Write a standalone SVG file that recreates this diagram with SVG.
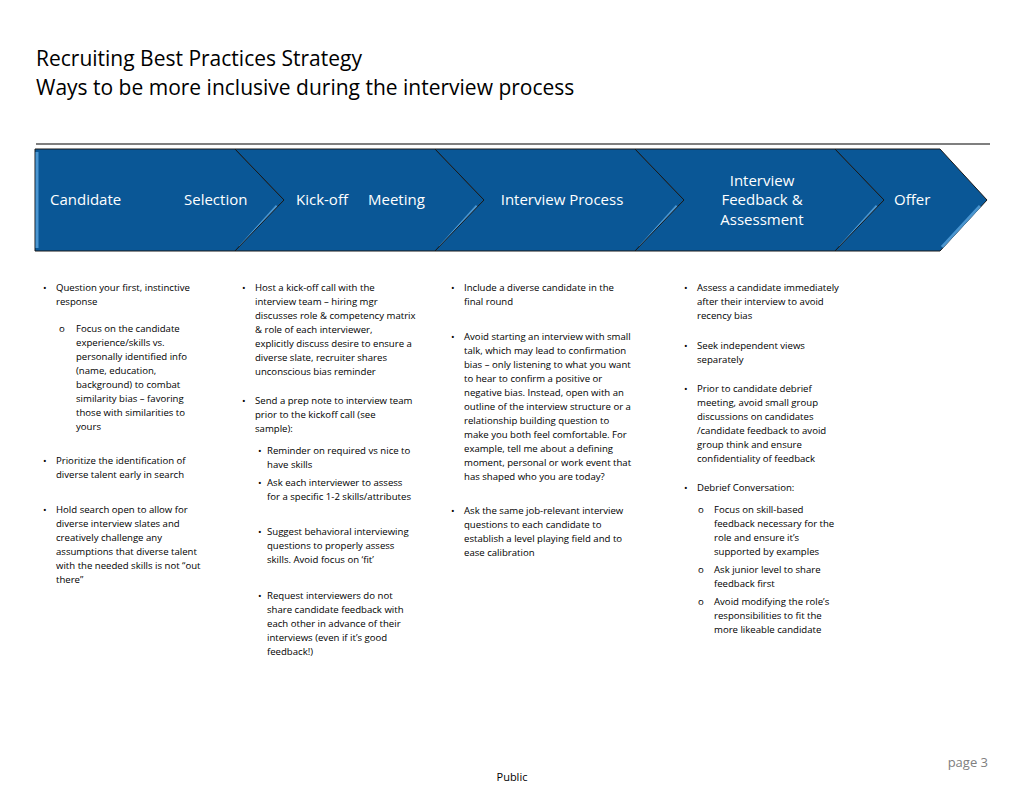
<svg xmlns="http://www.w3.org/2000/svg" width="1024" height="791" viewBox="0 0 1024 791">
<defs>
<style>
.t{font-family:"Open Sans","Liberation Sans",sans-serif;fill:#000}
.h{font-size:21px}
.s{font-family:"Open Sans","Liberation Sans",sans-serif;font-size:15px;fill:#fff}
.b{font-family:"Open Sans","Liberation Sans",sans-serif;font-size:9.6px;fill:#000}
.chev{fill:#0a5796;stroke:#1a1a1a;stroke-width:1}
.hl{stroke:#5aa6e0;stroke-width:3;fill:none;opacity:.8}
</style>
</defs>
<rect width="1024" height="791" fill="#fff"/>
<text class="t h" x="36" y="66">Recruiting Best Practices Strategy</text>
<text class="t h" x="36" y="95">Ways to be more inclusive during the interview process</text>
<line x1="36" y1="144" x2="990" y2="144" stroke="#000" stroke-width="1.2"/>
<g id="chevrons">
<g id="n1"><path class="chev" d="M35 149 H235 L284 200 L235 251 H35 Z"/><line class="hl" x1="37" y1="152" x2="37" y2="248"/><path class="hl" d="M240 247 L277 206"/><text class="s" x="50" y="205">Candidate</text><text class="s" x="184" y="205">Selection</text></g>
<g id="n2"><path class="chev" d="M235 149 H435 L484 200 L435 251 H235 L284 200 Z"/><path class="hl" d="M440 247 L477 206"/><text class="s" x="296" y="205">Kick-off</text><text class="s" x="368" y="205">Meeting</text></g>
<g id="n3"><path class="chev" d="M435 149 H635 L684 200 L635 251 H435 L484 200 Z"/><path class="hl" d="M640 247 L677 206"/><text class="s" x="562" y="205" text-anchor="middle">Interview Process</text></g>
<g id="n4"><path class="chev" d="M635 149 H835 L884 200 L835 251 H635 L684 200 Z"/><path class="hl" d="M840 247 L877 206"/><text class="s" x="762" text-anchor="middle"><tspan x="762" y="186">Interview</tspan><tspan x="762" y="205">Feedback &amp;</tspan><tspan x="762" y="225">Assessment</tspan></text></g>
<g id="n5"><path class="chev" d="M835 149 H940 L987 200 L940 251 H835 L884 200 Z"/><path class="hl" d="M942 247 L980 206"/><text class="s" x="894" y="205">Offer</text></g>
</g>
<g id="col1" class="b">
<text x="43" y="291">•</text>
<text x="56" y="291">Question your first, instinctive</text><text x="56" y="305">response</text>
<text x="59" y="332">o</text>
<text x="76" y="332">Focus on the candidate</text><text x="76" y="346">experience/skills vs.</text><text x="76" y="360">personally identified info</text><text x="76" y="374">(name, education,</text><text x="76" y="388">background) to combat</text><text x="76" y="402">similarity bias – favoring</text><text x="76" y="416">those with similarities to</text><text x="76" y="430">yours</text>
<text x="43" y="464">•</text>
<text x="56" y="464">Prioritize the identification of</text><text x="56" y="478">diverse talent early in search</text>
<text x="43" y="513">•</text>
<text x="56" y="513">Hold search open to allow for</text><text x="56" y="527">diverse interview slates and</text><text x="56" y="541">creatively challenge any</text><text x="56" y="555">assumptions that diverse talent</text><text x="56" y="569">with the needed skills is  not “out</text><text x="56" y="583">there”</text>
</g>
<g id="col2" class="b">
<text x="242" y="291">•</text>
<text x="255" y="291">Host a kick-off call with the</text><text x="255" y="305">interview team – hiring mgr</text><text x="255" y="319">discusses role &amp; competency matrix</text><text x="255" y="333">&amp; role of each interviewer,</text><text x="255" y="347">explicitly discuss desire to ensure a</text><text x="255" y="361">diverse slate, recruiter shares</text><text x="255" y="375">unconscious bias reminder</text>
<text x="242" y="404">•</text>
<text x="255" y="404">Send a prep note to interview team</text><text x="255" y="418">prior to the kickoff call (see</text><text x="255" y="432">sample):</text>
<text x="258" y="454">•</text>
<text x="267" y="454">Reminder on required vs nice to</text><text x="267" y="468">have skills</text>
<text x="258" y="486">•</text>
<text x="267" y="486">Ask each interviewer to assess</text><text x="267" y="500">for a specific 1-2 skills/attributes</text>
<text x="258" y="535">•</text>
<text x="267" y="535">Suggest behavioral interviewing</text><text x="267" y="549">questions to properly assess</text><text x="267" y="563">skills. Avoid focus on ‘fit’</text>
<text x="258" y="599">•</text>
<text x="267" y="599">Request interviewers do not</text><text x="267" y="613">share candidate feedback with</text><text x="267" y="627">each other in advance of their</text><text x="267" y="641">interviews (even if it’s good</text><text x="267" y="655">feedback!)</text>
</g>
<g id="col3" class="b">
<text x="451" y="291">•</text>
<text x="464" y="291">Include a diverse candidate in the</text><text x="464" y="305">final round</text>
<text x="451" y="340">•</text>
<text x="464" y="340">Avoid starting an interview with small</text><text x="464" y="354">talk, which may lead to confirmation</text><text x="464" y="368">bias – only listening to what you want</text><text x="464" y="382">to hear to confirm a positive or</text><text x="464" y="396">negative bias. Instead, open with an</text><text x="464" y="410">outline of the interview structure or a</text><text x="464" y="424">relationship building question to</text><text x="464" y="438">make you both feel comfortable. For</text><text x="464" y="452">example, tell me about a defining</text><text x="464" y="466">moment, personal or work event that</text><text x="464" y="480">has shaped who you are today?</text>
<text x="451" y="514">•</text>
<text x="464" y="514">Ask the same job-relevant interview</text><text x="464" y="528">questions to each candidate to</text><text x="464" y="542">establish a level playing field and to</text><text x="464" y="556">ease calibration</text>
</g>
<g id="col4" class="b">
<text x="684" y="291">•</text>
<text x="697" y="291">Assess a candidate immediately</text><text x="697" y="305">after their interview to avoid</text><text x="697" y="319">recency bias</text>
<text x="684" y="349">•</text>
<text x="697" y="349">Seek independent views</text><text x="697" y="363">separately</text>
<text x="684" y="392">•</text>
<text x="697" y="392">Prior to candidate debrief</text><text x="697" y="406">meeting, avoid small group</text><text x="697" y="420">discussions on candidates</text><text x="697" y="434">/candidate feedback to avoid</text><text x="697" y="448">group think and ensure</text><text x="697" y="462">confidentiality of feedback</text>
<text x="684" y="491">•</text>
<text x="697" y="491">Debrief Conversation:</text>
<text x="698" y="513">o</text>
<text x="714" y="513">Focus on skill-based</text><text x="714" y="527">feedback necessary for the</text><text x="714" y="541">role and ensure it’s</text><text x="714" y="555">supported by examples</text>
<text x="698" y="573">o</text>
<text x="714" y="573">Ask junior level to share</text><text x="714" y="587">feedback first</text>
<text x="698" y="605">o</text>
<text x="714" y="605">Avoid modifying the role’s</text><text x="714" y="619">responsibilities to fit the</text><text x="714" y="633">more likeable candidate</text>
</g>
<text class="t" x="988" y="767" font-size="13" fill="#808080" text-anchor="end" style="fill:#808080">page 3</text>
<text class="t" x="512" y="781" font-size="11" text-anchor="middle">Public</text>
</svg>
